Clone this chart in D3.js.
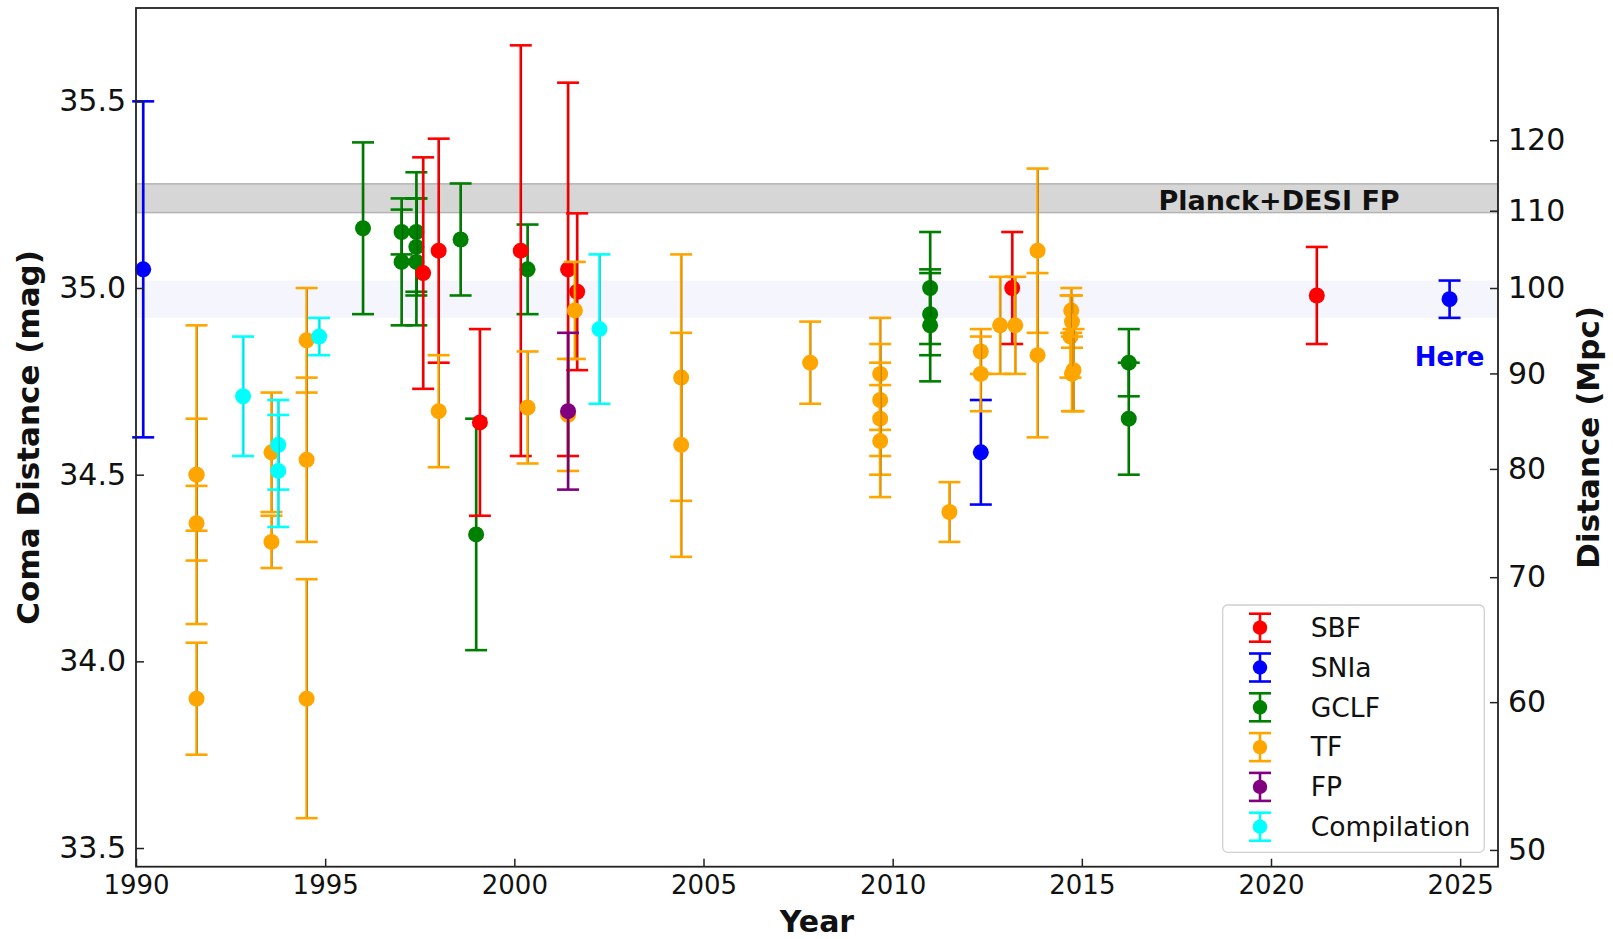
<!DOCTYPE html>
<html>
<head>
<meta charset="utf-8">
<script src="https://cdn.jsdelivr.net/npm/d3@7/dist/d3.min.js"></script>
<style>
  html, body { margin: 0; padding: 0; background: #ffffff; }
  svg { display: block; font-family: "DejaVu Sans", sans-serif; }
</style>
</head>
<body>
<svg id="chart" width="1613" height="939"></svg>
<script>
// ---------------- DATA ----------------
const sbfYear = [1997.59, 1998.0, 1999.09, 2000.17, 2001.42, 2001.66, 2013.16, 2021.21];
const sbfMag  = [35.04, 35.10, 34.64, 35.10, 35.05, 34.99, 35.00, 34.98];
const sbfErr  = [0.31, 0.30, 0.25, 0.55, 0.50, 0.21, 0.15, 0.13];

const sniaYear = [1990.19, 2012.33, 2024.72];
const sniaMag  = [35.05, 34.56, 34.97];
const sniaErr  = [0.45, 0.14, 0.05];

const gclfYear = [1996.0, 1997.02, 1997.02, 1997.41, 1997.41, 1997.41, 1998.58, 1998.99, 2000.35, 2010.99, 2010.99, 2010.99, 2016.24, 2016.24];
const gclfMag  = [35.16, 35.15, 35.07, 35.15, 35.11, 35.07, 35.13, 34.34, 35.05, 35.00, 34.93, 34.90, 34.80, 34.65];
const gclfErr  = [0.23, 0.06, 0.17, 0.16, 0.13, 0.17, 0.15, 0.31, 0.12, 0.15, 0.11, 0.15, 0.09, 0.15];

const tfYear = [1991.6, 1991.6, 1991.6, 1991.6, 1993.58, 1993.58, 1994.51, 1994.51, 1994.51,
                1998.0, 2000.35, 2001.42, 2001.6, 2004.41, 2004.41, 2007.82,
                2009.67, 2009.67, 2009.67, 2009.67, 2011.5, 2012.33, 2012.33, 2012.84, 2013.24,
                2013.83, 2013.83, 2014.72, 2014.74, 2014.70, 2014.78, 2014.74];
const tfMag  = [34.50, 34.50, 34.37, 33.90, 34.56, 34.32, 34.86, 34.54, 33.90,
                34.67, 34.68, 34.66, 34.94, 34.76, 34.58, 34.80,
                34.77, 34.70, 34.65, 34.59, 34.40, 34.83, 34.77, 34.90, 34.90,
                35.10, 34.82, 34.94, 34.91, 34.87, 34.78, 34.77];
const tfErr  = [0.40, 0.15, 0.10, 0.15, 0.16, 0.07, 0.14, 0.22, 0.32,
                0.15, 0.15, 0.15, 0.13, 0.33, 0.30, 0.11,
                0.15, 0.15, 0.15, 0.15, 0.08, 0.06, 0.10, 0.13, 0.13,
                0.22, 0.22, 0.06, 0.07, 0.11, 0.11, 0.10];

const fpYear = [2001.42];
const fpMag  = [34.67];
const fpErr  = [0.21];

const compYear = [1992.83, 1993.76, 1993.76, 1994.84, 2002.25];
const compMag  = [34.71, 34.58, 34.51, 34.87, 34.89];
const compErr  = [0.16, 0.12, 0.15, 0.05, 0.20];

const legendNames = ["SBF", "SNIa", "GCLF", "TF", "FP", "Compilation"];
const seriesColors = ["#ff0000", "#0000ff", "#008000", "#ffa500", "#800080", "#00ffff"];

const xTicks = [1990, 1995, 2000, 2005, 2010, 2015, 2020, 2025];
const yTicks = [33.5, 34.0, 34.5, 35.0, 35.5];
const distTicks = [50, 60, 70, 80, 90, 100, 110, 120];

const planckBand = [35.202, 35.279];
const hereBand = [34.92, 35.02];

const xDomain = [1990, 2026];
const yDomain = [33.45, 35.75];

// ---------------- LAYOUT ----------------
(function () {
const svg = d3.select("#chart");
const pL = 136, pR = 1498, pT = 8, pB = 866.7;

const x = d3.scaleLinear().domain(xDomain).range([pL, pR]);
const y = d3.scaleLinear().domain(yDomain).range([pB, pT]);
const muToD = mu => Math.pow(10, (mu - 25) / 5);
const yd = d3.scaleLog().domain([muToD(yDomain[0]), muToD(yDomain[1])]).range([pB, pT]);

// bands
svg.append("rect")
  .attr("x", pL).attr("width", pR - pL)
  .attr("y", y(hereBand[1])).attr("height", y(hereBand[0]) - y(hereBand[1]))
  .attr("fill", "#f5f5fd");

svg.append("rect")
  .attr("x", pL).attr("width", pR - pL)
  .attr("y", y(planckBand[1])).attr("height", y(planckBand[0]) - y(planckBand[1]))
  .attr("fill", "#d6d6d6").attr("stroke", "#b4b4b4").attr("stroke-width", 1.5);

svg.append("text")
  .attr("x", x(2023.4)).attr("y", y(35.24) + 12)
  .attr("text-anchor", "end")
  .attr("font-size", 27).attr("font-weight", "bold").attr("fill", "#111")
  .text("Planck+DESI FP");

// series
const series = [
  {name: "SBF", year: sbfYear, mag: sbfMag, err: sbfErr, color: seriesColors[0]},
  {name: "SNIa", year: sniaYear, mag: sniaMag, err: sniaErr, color: seriesColors[1]},
  {name: "GCLF", year: gclfYear, mag: gclfMag, err: gclfErr, color: seriesColors[2]},
  {name: "TF", year: tfYear, mag: tfMag, err: tfErr, color: seriesColors[3]},
  {name: "FP", year: fpYear, mag: fpMag, err: fpErr, color: seriesColors[4]},
  {name: "Compilation", year: compYear, mag: compMag, err: compErr, color: seriesColors[5]}
];
const drawOrder = ["GCLF", "SBF", "SNIa", "TF", "FP", "Compilation"];

const capHalf = 11, lw = 2.6, rad = 8;

function drawErrorBar(g, cx, yc, yTop, yBot, color, capW, rr) {
  g.append("line").attr("x1", cx).attr("x2", cx).attr("y1", yTop).attr("y2", yBot)
    .attr("stroke", color).attr("stroke-width", lw);
  g.append("line").attr("x1", cx + 0.9).attr("x2", cx + 0.9).attr("y1", yTop).attr("y2", yBot)
    .attr("stroke", "#000").attr("stroke-opacity", 0.28).attr("stroke-width", 0.8);
  [yTop, yBot].forEach(yy => {
    g.append("line").attr("x1", cx - capW).attr("x2", cx + capW).attr("y1", yy).attr("y2", yy)
      .attr("stroke", color).attr("stroke-width", lw);
  });
  g.append("circle").attr("cx", cx).attr("cy", yc).attr("r", rr).attr("fill", color);
}

const marks = svg.append("g");
drawOrder.forEach(nm => {
  const s = series.find(d => d.name === nm);
  s.year.forEach((yr, i) => {
    const g = marks.append("g");
    drawErrorBar(g, x(yr), y(s.mag[i]), y(s.mag[i] + s.err[i]), y(s.mag[i] - s.err[i]), s.color, capHalf, rad);
  });
});

svg.append("text")
  .attr("x", x(sniaYear[2])).attr("y", 366)
  .attr("text-anchor", "middle")
  .attr("font-size", 26).attr("font-weight", "bold").attr("fill", "#0000ff")
  .text("Here");

// axes
const axColor = "#222";
const xAxis = svg.append("g").attr("transform", `translate(0,${pB})`)
  .call(d3.axisBottom(x).tickValues(xTicks).tickFormat(d3.format("d")).tickSizeInner(-8).tickSizeOuter(0).tickPadding(9));
xAxis.selectAll("text").attr("font-size", 26).attr("fill", "#111");

const yAxis = svg.append("g").attr("transform", `translate(${pL},0)`)
  .call(d3.axisLeft(y).tickValues(yTicks).tickFormat(d3.format(".1f")).tickSizeInner(-8).tickSizeOuter(0).tickPadding(10));
yAxis.selectAll("text").attr("font-size", 30).attr("fill", "#111");

const rAxis = svg.append("g").attr("transform", `translate(${pR},0)`)
  .call(d3.axisRight(yd).tickValues(distTicks).tickFormat(d3.format("d")).tickSizeInner(-8).tickSizeOuter(0).tickPadding(10));
rAxis.selectAll("text").attr("font-size", 30).attr("fill", "#111");

[xAxis, yAxis, rAxis].forEach(a => {
  a.select(".domain").remove();
  a.selectAll(".tick line").attr("stroke", axColor).attr("stroke-width", 1.5);
  a.attr("font-family", "DejaVu Sans");
});

svg.append("rect")
  .attr("x", pL).attr("y", pT).attr("width", pR - pL).attr("height", pB - pT)
  .attr("fill", "none").attr("stroke", axColor).attr("stroke-width", 1.8);

// axis labels
svg.append("text").attr("x", (pL + pR) / 2).attr("y", 932)
  .attr("text-anchor", "middle").attr("font-size", 30).attr("font-weight", "bold").attr("fill", "#111")
  .text("Year");
svg.append("text").attr("transform", `translate(39,${(pT + pB) / 2}) rotate(-90)`)
  .attr("text-anchor", "middle").attr("font-size", 31).attr("font-weight", "bold").attr("fill", "#111")
  .text("Coma Distance (mag)");
svg.append("text").attr("transform", `translate(1599,${(pT + pB) / 2}) rotate(-90)`)
  .attr("text-anchor", "middle").attr("font-size", 31).attr("font-weight", "bold").attr("fill", "#111")
  .text("Distance (Mpc)");

// legend
const lg = svg.append("g");
lg.append("rect").attr("x", 1222.7).attr("y", 605).attr("width", 261.6).attr("height", 247.3)
  .attr("rx", 5).attr("fill", "#fff").attr("fill-opacity", 0.85).attr("stroke", "#d0d0d0").attr("stroke-width", 1.3);
legendNames.forEach((nm, i) => {
  const cy = 627.7 + i * 39.8;
  const g = lg.append("g");
  g.append("line").attr("x1", 1260).attr("x2", 1260).attr("y1", cy - 14).attr("y2", cy + 14)
    .attr("stroke", seriesColors[i]).attr("stroke-width", lw);
  [cy - 14, cy + 14].forEach(yy => g.append("line").attr("x1", 1249).attr("x2", 1271).attr("y1", yy).attr("y2", yy)
    .attr("stroke", seriesColors[i]).attr("stroke-width", lw));
  g.append("circle").attr("cx", 1260).attr("cy", cy).attr("r", 7.2).attr("fill", seriesColors[i]);
  g.append("text").attr("x", 1310.7).attr("y", cy + 9.3)
    .attr("font-size", 26.6).attr("fill", "#111").text(nm);
});
})();
</script>
</body>
</html>
